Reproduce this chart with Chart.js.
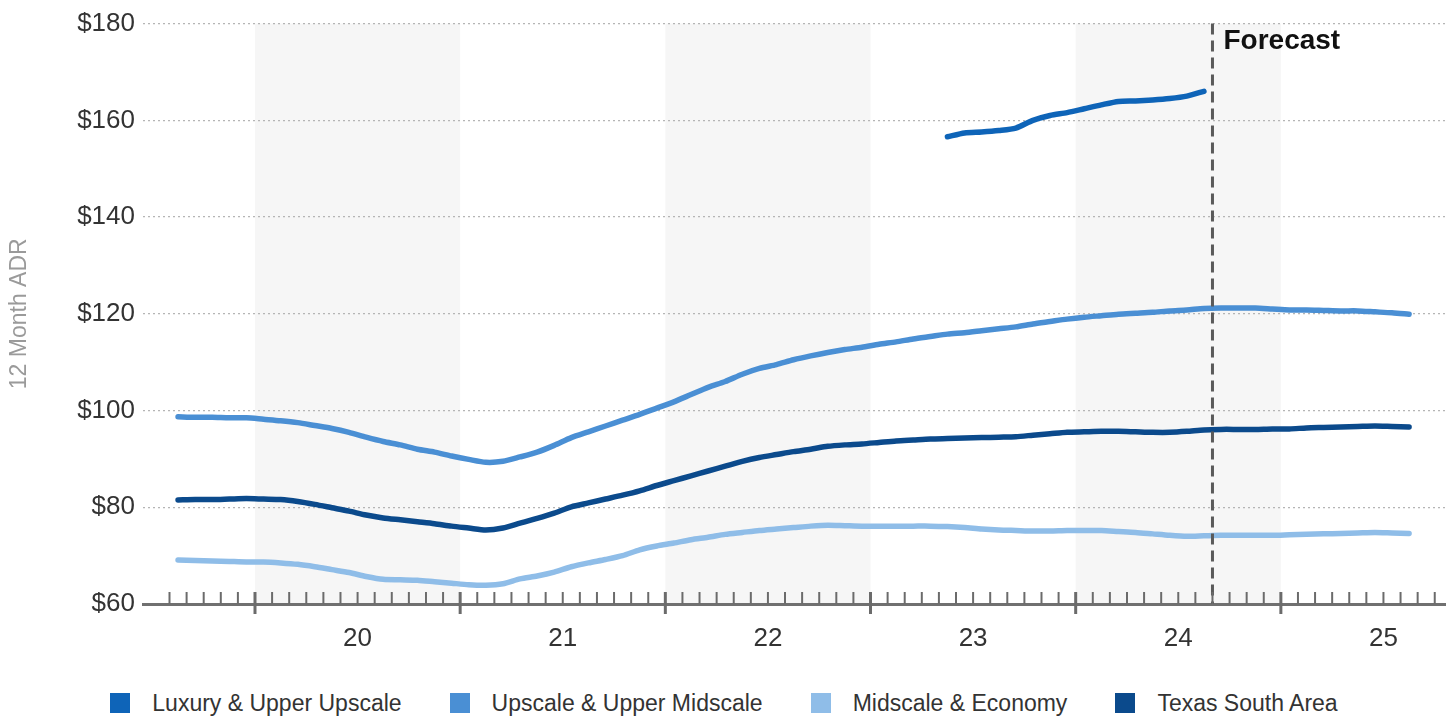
<!DOCTYPE html>
<html>
<head>
<meta charset="utf-8">
<script src="https://cdn.jsdelivr.net/npm/chart.js@4.4.1/dist/chart.umd.min.js"></script>
<style>
  html, body { margin: 0; padding: 0; background: #fff; }
  body { width: 1456px; height: 717px; overflow: hidden; font-family: "Liberation Sans", Arial, sans-serif; }
  #wrap { position: relative; width: 1456px; height: 682px; }
  #legend { display: flex; justify-content: center; align-items: center; gap: 48px; height: 44px; margin-top: -1px; padding-right: 8px; }
  .item { display: flex; align-items: center; font-size: 23px; color: #333; }
  .swatch { width: 20px; height: 20px; margin-right: 22px; }
</style>
</head>
<body>
<div id="wrap"><canvas id="adrChart" width="1456" height="682"></canvas></div>
<div id="legend"></div>
<script>
// series start months, monthly values (12 month ADR)
const firstMonth = '2019-08';
const luxuryFirstMonth = '2023-05';
const forecastMonth = '2024-09';

const upscale = [98.7, 98.6, 98.6, 98.5, 98.5, 98.2, 97.9, 97.5, 96.9, 96.3, 95.5, 94.5,
  93.6, 92.9, 92.0, 91.4, 90.6, 89.9, 89.3, 89.5, 90.4, 91.4, 92.8, 94.4,
  95.6, 96.8, 98.0, 99.2, 100.5, 101.8, 103.3, 104.8, 106.0, 107.5, 108.7, 109.5,
  110.5, 111.3, 112.0, 112.6, 113.1, 113.7, 114.2, 114.8, 115.3, 115.8, 116.1, 116.5,
  116.9, 117.3, 117.9, 118.4, 118.9, 119.3, 119.6, 119.9, 120.1, 120.3, 120.6, 120.8,
  121.1, 121.2, 121.2, 121.2, 121.0, 120.8, 120.8, 120.7, 120.6, 120.6, 120.4, 120.2, 119.9];

const texas = [81.5, 81.6, 81.6, 81.7, 81.8, 81.7, 81.6, 81.2, 80.6, 79.9, 79.2, 78.4,
  77.8, 77.4, 77.0, 76.6, 76.1, 75.7, 75.3, 75.7, 76.7, 77.7, 78.8, 80.1,
  80.9, 81.7, 82.5, 83.4, 84.5, 85.5, 86.5, 87.5, 88.5, 89.5, 90.3, 90.9,
  91.5, 92.0, 92.6, 92.9, 93.1, 93.4, 93.7, 93.9, 94.1, 94.2, 94.3, 94.4,
  94.5, 94.6, 94.9, 95.2, 95.5, 95.6, 95.7, 95.7, 95.6, 95.5, 95.5, 95.7,
  96.0, 96.1, 96.1, 96.1, 96.2, 96.2, 96.4, 96.5, 96.6, 96.7, 96.8, 96.7, 96.6];

const midscale = [69.1, 69.0, 68.9, 68.8, 68.7, 68.7, 68.5, 68.2, 67.7, 67.1, 66.5, 65.7,
  65.1, 65.0, 64.9, 64.6, 64.3, 64.0, 63.9, 64.2, 65.2, 65.8, 66.6, 67.7,
  68.5, 69.2, 70.0, 71.2, 72.0, 72.6, 73.3, 73.8, 74.4, 74.8, 75.2, 75.5,
  75.8, 76.1, 76.3, 76.2, 76.1, 76.1, 76.1, 76.1, 76.1, 76.0, 75.8, 75.5,
  75.3, 75.2, 75.1, 75.1, 75.2, 75.2, 75.2, 75.0, 74.8, 74.5, 74.2, 74.0,
  74.1, 74.2, 74.2, 74.2, 74.2, 74.3, 74.4, 74.5, 74.6, 74.7, 74.8, 74.7, 74.6];

const luxury = [156.6, 157.4, 157.6, 157.9, 158.4, 160.0, 161.0, 161.6, 162.4, 163.2,
  163.9, 164.0, 164.2, 164.5, 165.0, 166.0];

const yearLabels = ['20', '21', '22', '23', '24', '25'];
const shadedYears = [2020, 2022, 2024];
const yTicks = [60, 80, 100, 120, 140, 160, 180];

const seriesNames = ['Luxury & Upper Upscale', 'Upscale & Upper Midscale', 'Midscale & Economy', 'Texas South Area'];
const seriesColors = ['#0e64b8', '#4a8fd4', '#8fbde8', '#0b4a8c'];

const fontFamily = '"Liberation Sans", Arial, sans-serif';

// months since Jan 2019
function monthIndex(ym) {
  const [y, m] = ym.split('-').map(Number);
  return (y - 2019) * 12 + (m - 1);
}
function toPoints(start, values) {
  const s = monthIndex(start);
  return values.map((v, i) => ({ x: s + i + 0.5, y: v }));
}

const axisMin = 5.45, axisMax = 81.6;

const decor = {
  id: 'decor',
  beforeDraw(chart) {
    const { ctx, chartArea: a, scales: { x } } = chart;
    ctx.save();
    ctx.fillStyle = '#f6f6f6';
    shadedYears.forEach(yr => {
      const x0 = x.getPixelForValue(monthIndex(yr + '-01'));
      const x1 = x.getPixelForValue(monthIndex((yr + 1) + '-01'));
      ctx.fillRect(x0, a.top, x1 - x0, a.bottom - a.top);
    });
    ctx.restore();
  },
  afterDatasetsDraw(chart) {
    const { ctx, chartArea: a, scales: { x } } = chart;
    const fx = x.getPixelForValue(monthIndex(forecastMonth));
    ctx.save();
    ctx.strokeStyle = '#5a5a5a';
    ctx.lineWidth = 3;
    ctx.setLineDash([11, 6]);
    ctx.beginPath();
    ctx.moveTo(fx, a.top);
    ctx.lineTo(fx, a.bottom);
    ctx.stroke();
    ctx.fillStyle = '#111';
    ctx.font = 'bold 28px ' + fontFamily;
    ctx.textBaseline = 'top';
    ctx.fillText('Forecast', fx + 11, a.top + 4);
    ctx.restore();
  },
  afterDraw(chart) {
    // month tick marks, year boundaries longer
    const { ctx, chartArea: a, scales: { x } } = chart;
    ctx.save();
    ctx.strokeStyle = '#6b6b6b';
    x.ticks.forEach(t => {
      const px = x.getPixelForValue(t.value);
      const major = t.value % 12 === 0;
      ctx.lineWidth = major ? 3 : 2;
      ctx.beginPath();
      ctx.moveTo(px, a.bottom - 12);
      ctx.lineTo(px, a.bottom + (major ? 10 : 0));
      ctx.stroke();
    });
    ctx.restore();
  }
};

const ds = (i, data) => ({
  label: seriesNames[i],
  data,
  borderColor: seriesColors[i],
  backgroundColor: seriesColors[i],
  borderWidth: 5.5,
  pointRadius: 0,
  tension: 0.25,
  borderCapStyle: 'round',
  borderJoinStyle: 'round'
});

new Chart(document.getElementById('adrChart'), {
  type: 'line',
  data: {
    datasets: [
      ds(0, toPoints(luxuryFirstMonth, luxury)),
      ds(1, toPoints(firstMonth, upscale)),
      ds(2, toPoints(firstMonth, midscale)),
      ds(3, toPoints(firstMonth, texas))
    ]
  },
  options: {
    responsive: false,
    animation: false,
    layout: { padding: { top: 7, right: 11, left: 0, bottom: 0 } },
    plugins: { legend: { display: false }, tooltip: { enabled: false } },
    scales: {
      x: {
        type: 'linear',
        min: axisMin,
        max: axisMax,
        afterBuildTicks(s) {
          const t = [];
          for (let v = Math.ceil(axisMin); v <= Math.floor(axisMax); v++) t.push({ value: v });
          s.ticks = t;
        },
        afterFit(s) { s.height = 78; },
        grid: { display: false },
        border: { display: true, color: '#707070', width: 3 },
        ticks: {
          autoSkip: false,
          maxRotation: 0,
          padding: 11,
          color: '#333',
          font: { size: 26, family: fontFamily },
          callback: v => (v % 12 === 6 ? yearLabels[(v - 18) / 12] : '')
        }
      },
      y: {
        min: 60,
        max: 180,
        afterBuildTicks(s) { s.ticks = yTicks.map(v => ({ value: v })); },
        afterFit(s) { s.width = 143; },
        grid: { color: '#b5b5b5', lineWidth: 1.2, drawTicks: false },
        border: { display: false, dash: [2, 3] },
        ticks: {
          padding: 8,
          color: '#333',
          font: { size: 26, family: fontFamily },
          callback: v => '$' + v
        },
        title: {
          display: true,
          text: '12 Month ADR',
          color: '#9a9a9a',
          padding: { top: 6, bottom: 0 },
          font: { size: 23, family: fontFamily }
        }
      }
    }
  },
  plugins: [decor]
});

// legend under the chart
const legend = document.getElementById('legend');
seriesNames.forEach((name, i) => {
  const item = document.createElement('div');
  item.className = 'item';
  const sw = document.createElement('span');
  sw.className = 'swatch';
  sw.style.background = seriesColors[i];
  item.appendChild(sw);
  item.appendChild(document.createTextNode(name));
  legend.appendChild(item);
});
</script>
</body>
</html>
